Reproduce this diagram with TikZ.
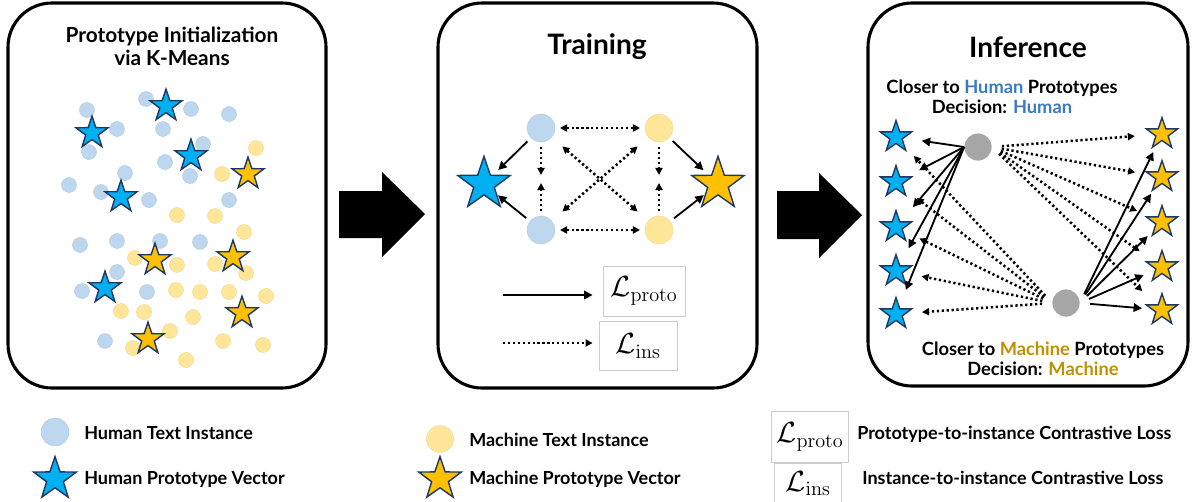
\documentclass[tikz,border=0pt]{standalone}
\usepackage[no-math]{fontspec}
\setmainfont{Lato}
\usetikzlibrary{shapes.geometric,arrows.meta,positioning}
\definecolor{hfill}{HTML}{BDD7EE}
\definecolor{mfill}{HTML}{FFE699}
\definecolor{hstarfill}{HTML}{00B0F0}
\definecolor{mstarfill}{HTML}{FFC000}
\definecolor{starline}{HTML}{1F3864}
\definecolor{grayfill}{HTML}{A6A6A6}
\definecolor{humantxt}{HTML}{3A7BBE}
\definecolor{machinetxt}{HTML}{BF9000}
\begin{document}
\begin{tikzpicture}[x=0.025cm, y=-0.025cm, font=\bfseries,
    panel/.style={draw, line width=2.2pt, rounded corners=1.1cm},
    hdot/.style={circle, fill=hfill, draw=hfill!85!gray, line width=0.3pt, inner sep=0pt, minimum size=#1},
    hdot/.default=0.375cm,
    mdot/.style={circle, fill=mfill, draw=mfill!85!gray, line width=0.3pt, inner sep=0pt, minimum size=#1},
    mdot/.default=0.375cm,
    gdot/.style={circle, fill=grayfill, inner sep=0pt, minimum size=0.68cm},
    hstar/.style={star, star points=5, star point ratio=2.55, fill=hstarfill, draw=starline, line width=1pt, inner sep=0pt, minimum size=#1},
    hstar/.default=0.84cm,
    mstar/.style={star, star points=5, star point ratio=2.55, fill=mstarfill, draw=starline, line width=1pt, inner sep=0pt, minimum size=#1},
    mstar/.default=0.84cm,
    protoarrow/.style={line width=1.3pt, -{Triangle[length=6pt,width=6pt]}},
    insarrow/.style={line width=1.8pt, dash pattern=on 1.6pt off 1.9pt, -{Triangle[length=5pt,width=5pt]}},
    insboth/.style={line width=1.8pt, dash pattern=on 1.6pt off 1.9pt, {Triangle[length=5pt,width=5pt]}-{Triangle[length=5pt,width=5pt]}},
    lossbox/.style={draw=black!20, line width=0.6pt, inner sep=0pt, font=\huge},
    legtext/.style={font=\fontsize{12.8}{14}\bfseries, inner sep=0pt}]
\useasboundingbox (0,0) rectangle (1192,501);
% panels
\draw[panel] (8,3) rectangle (326,388);
\draw[panel] (438,3) rectangle (757,388);
\draw[panel] (868,3) rectangle (1188,386);
% block arrows
\fill (339,191)--(382,191)--(382,172)--(425,214)--(382,257)--(382,238)--(339,238)--cycle;
\fill (777,191)--(819,191)--(819,173)--(862,215)--(819,258)--(819,239)--(777,239)--cycle;

% first panel
\node[align=center, font=\fontsize{14.8}{16.3}\bfseries] (inittitle) at (172,46) {Prototype Initialization\\via K-Means};
\foreach \px/\py [count=\i] in {146/99, 87/110, 191/109, 229/114, 117/129, 163/129, 89/152, 203/144,
    165/162, 125/173, 190/176, 69/185, 101/192, 149/200, 229/200, 80/245, 117/241, 160/241,
    200/242, 117/272, 82/291, 147/292, 105/341}
  \node[hdot] (hd\i) at (\px,\py) {};
\foreach \px/\py [count=\i] in {256/148, 222/174, 177/215, 215/216, 244/232, 135/258, 177/265,
    215/264, 246/273, 176/290, 200/292, 229/292, 266/296, 121/311, 144/312, 193/317, 170/331,
    223/341, 263/345, 133/348, 186/360}
  \node[mdot] (md\i) at (\px,\py) {};
\foreach \px/\py [count=\i] in {166/106, 92/133, 191/156, 121/197, 105/288}
  \node[hstar] (hk\i) at (\px,\py) {};
\foreach \px/\py [count=\i] in {248/174, 155/260, 233/257, 242/313, 148/339}
  \node[mstar] (mk\i) at (\px,\py) {};

% second panel
\node[font=\fontsize{20}{24}\bfseries] (traintitle) at (597,47) {Training};
\node[hdot=0.7cm] (h1) at (541,128) {};
\node[hdot=0.7cm] (h2) at (541,230) {};
\node[mdot=0.7cm] (m1) at (659,128) {};
\node[mdot=0.7cm] (m2) at (659,230) {};
\node[hstar=1.38cm] (hp) at (484,184) {};
\node[mstar=1.38cm] (mp) at (718,184) {};
\coordinate (hmid1) at (541,175);
\coordinate (hmid2) at (541,183);
\coordinate (mmid1) at (659,175);
\coordinate (mmid2) at (659,183);
\draw[protoarrow, shorten <=0.12cm, shorten >=0.5cm] (h1) -- (hp.center);
\draw[protoarrow, shorten <=0.12cm, shorten >=0.45cm] (h2) -- (hp.center);
\draw[protoarrow, shorten <=0.12cm, shorten >=0.5cm] (m1) -- (mp.center);
\draw[protoarrow, shorten <=0.12cm, shorten >=0.45cm] (m2) -- (mp.center);
\draw[insboth, shorten <=0.12cm, shorten >=0.12cm] (h1) -- (m1);
\draw[insboth, shorten <=0.12cm, shorten >=0.12cm] (h2) -- (m2);
\draw[insboth, shorten <=0.35cm, shorten >=0.35cm] (h1) -- (m2);
\draw[insboth, shorten <=0.35cm, shorten >=0.35cm] (h2) -- (m1);
\draw[insarrow, shorten <=0.12cm] (h1) -- (hmid1);
\draw[insarrow, shorten <=0.12cm] (h2) -- (hmid2);
\draw[insarrow, shorten <=0.12cm] (m1) -- (mmid1);
\draw[insarrow, shorten <=0.12cm] (m2) -- (mmid2);
% loss legend inside
\node[lossbox, minimum width=2.05cm, minimum height=1.25cm] (lpbox) at (644,291) {$\mathcal{L}_{\mathrm{proto}}$};
\node[lossbox, minimum width=1.95cm, minimum height=1.22cm] (libox) at (638,346) {$\mathcal{L}_{\mathrm{ins}}$};
\coordinate (lpstart) at (503,295);
\coordinate (listart) at (503,343);
\draw[protoarrow, shorten >=0.25cm] (lpstart) -- (lpstart -| lpbox.west);
\draw[insarrow, shorten >=0.15cm] (listart) -- (listart -| libox.west);

% third panel
\node[font=\fontsize{20}{24}\bfseries] (infertitle) at (1028,47) {Inference};
\node[align=center, font=\fontsize{13}{14.2}\bfseries] (humantext) at (1002,97)
  {Closer to {\color{humantxt}Human} Prototypes\\Decision: {\color{humantxt}Human}};
\node[align=center, font=\fontsize{13}{14.2}\bfseries] (machinetext) at (1043,359)
  {Closer to {\color{machinetxt}Machine} Prototypes\\Decision: {\color{machinetxt}Machine}};
\foreach \py [count=\i] in {137, 182, 227, 271, 314}
  \node[hstar=0.82cm] (hs\i) at (896,\py) {};
\foreach \py [count=\i] in {134, 177, 222, 267, 310}
  \node[mstar=0.82cm] (ms\i) at (1162,\py) {};
\node[gdot] (g1) at (978,147) {};
\node[gdot] (g2) at (1066,303) {};
\foreach \i in {1,...,5} {
  \draw[protoarrow, shorten >=0.65cm] (g1.west) -- (hs\i.center);
  \draw[insarrow, shorten <=0.25cm, shorten >=0.68cm] (g1.east) -- (ms\i.center);
  \draw[protoarrow, shorten <=0.25cm, shorten >=0.5cm] (g2.east) -- (ms\i.center);
  \draw[insarrow, shorten <=0.25cm, shorten >=0.65cm] (g2.west) -- (hs\i.center);
}

% legend
\node[hdot=0.7cm] (lhd) at (55,432) {};
\node[hstar=1.12cm] (lhs) at (55,479) {};
\node[legtext, anchor=west] (lhdtxt) at (84,433) {Human Text Instance};
\node[legtext, anchor=west] (lhstxt) at (lhdtxt.west |- lhs) {Human Prototype Vector};
\node[mdot=0.68cm] (lmd) at (440,439) {};
\node[mstar=1.12cm] (lms) at (440,479) {};
\node[legtext, anchor=west] (lmdtxt) at (469,440) {Machine Text Instance};
\node[legtext, anchor=west] (lmstxt) at (lmdtxt.west |- lms) {Machine Prototype Vector};
\node[lossbox, minimum width=1.93cm, minimum height=1.28cm] (llp) at (810,437) {$\mathcal{L}_{\mathrm{proto}}$};
\node[lossbox, minimum width=1.68cm, minimum height=1.0cm, anchor=north] (lli) at (808,463) {$\mathcal{L}_{\mathrm{ins}}$};
\node[legtext, anchor=west] (llptxt) at (857,434) {Prototype-to-instance Contrastive Loss};
\node[legtext, anchor=west] (llitxt) at (862,478) {Instance-to-instance Contrastive Loss};
\end{tikzpicture}
\end{document}
